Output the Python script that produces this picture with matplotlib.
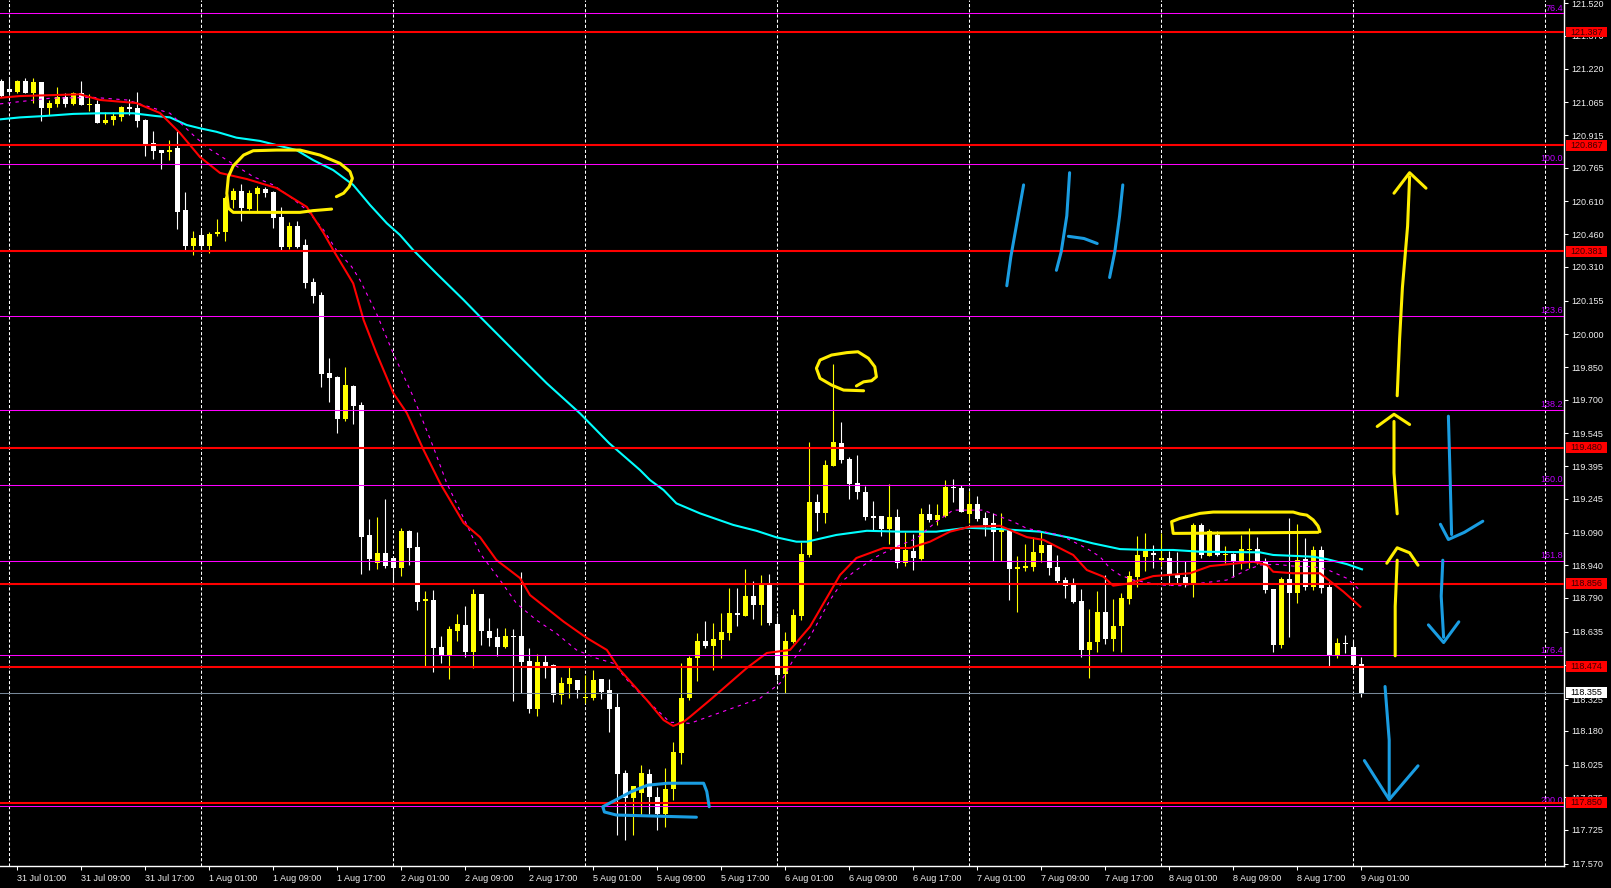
import numpy as np
import matplotlib
matplotlib.use("Agg")
import matplotlib.pyplot as plt
from matplotlib.patches import Rectangle

plt.rcParams['font.family'] = ['Liberation Sans', 'DejaVu Sans']

# H1 bars, bar 0 = 31 Jul 00:00 (first visible bar is 30 Jul 23:00)
first_bar = -1

opens = [121.165, 121.126, 121.113, 121.163, 121.109, 121.157, 121.040, 121.058, 121.091, 121.058,
         121.109, 121.052, 121.058, 120.972, 120.984, 120.999, 121.044, 121.039, 120.984, 120.878,
         120.846, 120.837, 120.857, 120.571, 120.407, 120.457, 120.407, 120.461, 120.471, 120.618,
         120.658, 120.577, 120.646, 120.667, 120.653, 120.540, 120.402, 120.499, 120.411, 120.240,
         120.181, 119.822, 119.805, 119.610, 119.763, 119.675, 119.079, 118.950, 118.996, 118.973,
         118.927, 119.097, 119.024, 118.777, 118.780, 118.564, 118.524, 118.638, 118.665, 118.541,
         118.808, 118.638, 118.610, 118.564, 118.616, 118.615, 118.500, 118.280, 118.496, 118.482,
         118.344, 118.395, 118.413, 118.332, 118.330, 118.417, 118.367, 118.289, 117.986, 117.871,
         117.894, 117.981, 117.876, 117.798, 117.912, 118.078, 118.329, 118.515, 118.592, 118.569,
         118.598, 118.630, 118.720, 118.707, 118.799, 118.757, 118.849, 118.670, 118.442, 118.587,
         118.707, 118.987, 119.230, 119.181, 119.395, 119.501, 119.428, 119.317, 119.276, 119.166,
         119.166, 119.106, 119.161, 118.950, 119.005, 118.968, 119.175, 119.148, 119.166, 119.299,
         119.294, 119.175, 119.221, 119.157, 119.134, 119.092, 119.102, 118.922, 118.927, 118.932,
         118.996, 119.033, 118.932, 118.872, 118.849, 118.776, 118.551, 118.587, 118.725, 118.601,
         118.661, 118.785, 118.886, 118.978, 118.996, 118.964, 118.973, 118.900, 118.886, 118.849,
         119.125, 118.982, 119.079, 118.987, 118.991, 118.959, 119.010, 119.014, 118.959, 118.831,
         118.574, 118.877, 118.812, 118.968, 118.840, 119.010, 118.840, 118.523, 118.583, 118.564,
         118.486]
highs = [121.172, 121.180, 121.168, 121.176, 121.176, 121.160, 121.076, 121.134, 121.107, 121.114,
         121.162, 121.103, 121.076, 121.019, 121.019, 121.048, 121.079, 121.113, 120.987, 120.934,
         120.846, 120.892, 120.934, 120.653, 120.473, 120.479, 120.470, 120.529, 120.635, 120.670,
         120.690, 120.663, 120.681, 120.678, 120.659, 120.586, 120.516, 120.520, 120.438, 120.257,
         120.193, 119.893, 119.809, 119.850, 119.769, 119.688, 119.152, 119.161, 119.244, 118.973,
         119.109, 119.102, 119.094, 118.822, 118.826, 118.615, 118.662, 118.716, 118.753, 118.831,
         118.808, 118.697, 118.652, 118.652, 118.647, 118.909, 118.560, 118.532, 118.528, 118.486,
         118.427, 118.473, 118.413, 118.436, 118.459, 118.417, 118.417, 118.353, 117.999, 117.926,
         118.023, 118.004, 117.922, 118.009, 118.128, 118.491, 118.523, 118.629, 118.684, 118.676,
         118.720, 118.837, 118.837, 118.922, 118.867, 118.895, 118.900, 118.707, 118.633, 118.739,
         119.046, 119.506, 119.267, 119.423, 119.864, 119.597, 119.437, 119.446, 119.304, 119.235,
         119.166, 119.313, 119.198, 119.092, 119.083, 119.203, 119.221, 119.221, 119.331, 119.336,
         119.308, 119.281, 119.258, 119.184, 119.180, 119.180, 119.106, 118.982, 119.037, 119.069,
         119.092, 119.033, 118.987, 118.886, 118.881, 118.831, 118.739, 118.822, 118.895, 118.785,
         118.812, 118.913, 119.074, 119.088, 119.033, 119.088, 119.005, 119.001, 118.959, 119.134,
         119.134, 119.106, 119.097, 119.028, 118.996, 119.079, 119.111, 119.069, 118.973, 118.831,
         118.886, 119.157, 119.129, 119.065, 119.028, 119.028, 118.863, 118.606, 118.619, 118.592,
         118.518]
lows = [121.090, 121.108, 121.107, 121.107, 121.061, 120.979, 121.007, 121.042, 121.045, 121.053,
        121.053, 121.027, 120.972, 120.964, 120.960, 120.979, 121.007, 120.953, 120.819, 120.806,
        120.760, 120.800, 120.485, 120.384, 120.364, 120.378, 120.375, 120.451, 120.430, 120.579,
        120.522, 120.571, 120.568, 120.632, 120.490, 120.384, 120.393, 120.395, 120.214, 120.145,
        119.760, 119.691, 119.548, 119.603, 119.588, 118.901, 118.918, 118.922, 118.927, 118.860,
        118.890, 118.941, 118.734, 118.477, 118.450, 118.492, 118.417, 118.592, 118.520, 118.468,
        118.574, 118.569, 118.523, 118.560, 118.318, 118.355, 118.261, 118.248, 118.422, 118.312,
        118.303, 118.330, 118.330, 118.307, 118.321, 118.326, 118.174, 117.701, 117.678, 117.701,
        117.793, 117.798, 117.724, 117.738, 117.862, 118.027, 118.321, 118.410, 118.561, 118.459,
        118.515, 118.598, 118.662, 118.707, 118.694, 118.665, 118.665, 118.413, 118.355, 118.581,
        118.688, 118.978, 119.097, 119.135, 119.395, 119.409, 119.244, 119.244, 119.148, 119.102,
        119.074, 119.037, 118.927, 118.936, 118.918, 118.964, 119.138, 119.125, 119.161, 119.230,
        119.184, 119.134, 119.143, 119.074, 118.959, 118.959, 118.780, 118.725, 118.913, 118.913,
        118.955, 118.895, 118.858, 118.789, 118.766, 118.519, 118.422, 118.541, 118.578, 118.546,
        118.541, 118.762, 118.840, 118.913, 118.927, 118.936, 118.849, 118.858, 118.840, 118.794,
        118.973, 118.982, 118.982, 118.950, 118.886, 118.922, 118.927, 118.945, 118.812, 118.541,
        118.560, 118.610, 118.766, 118.826, 118.826, 118.812, 118.477, 118.514, 118.537, 118.459,
        118.335]
closes = [121.094, 121.114, 121.163, 121.109, 121.159, 121.040, 121.063, 121.091, 121.058, 121.109,
          121.054, 121.056, 120.972, 120.984, 121.004, 121.044, 121.035, 120.981, 120.865, 120.843,
          120.831, 120.845, 120.563, 120.407, 120.442, 120.407, 120.462, 120.471, 120.626, 120.658,
          120.580, 120.650, 120.673, 120.650, 120.535, 120.402, 120.499, 120.402, 120.237, 120.177,
          119.818, 119.801, 119.611, 119.767, 119.671, 119.071, 118.968, 118.996, 118.936, 118.927,
          119.097, 119.020, 118.771, 118.785, 118.561, 118.524, 118.647, 118.670, 118.541, 118.808,
          118.638, 118.606, 118.564, 118.615, 118.612, 118.496, 118.280, 118.496, 118.477, 118.344,
          118.399, 118.422, 118.367, 118.336, 118.413, 118.358, 118.280, 117.981, 117.871, 117.926,
          117.986, 117.876, 117.798, 117.912, 118.082, 118.330, 118.515, 118.592, 118.569, 118.601,
          118.633, 118.720, 118.711, 118.799, 118.757, 118.849, 118.675, 118.437, 118.592, 118.711,
          118.991, 119.230, 119.181, 119.400, 119.506, 119.423, 119.313, 119.276, 119.161, 119.157,
          119.106, 119.161, 118.950, 119.010, 118.973, 119.175, 119.148, 119.170, 119.299, 119.294,
          119.184, 119.221, 119.152, 119.125, 119.092, 119.102, 118.922, 118.932, 118.936, 119.001,
          119.033, 118.927, 118.867, 118.844, 118.771, 118.551, 118.587, 118.725, 118.601, 118.661,
          118.789, 118.890, 118.987, 119.005, 118.987, 118.973, 118.900, 118.881, 118.849, 119.125,
          118.987, 119.097, 118.987, 118.991, 118.959, 119.014, 119.014, 118.959, 118.826, 118.574,
          118.877, 118.812, 118.964, 118.840, 119.010, 118.835, 118.523, 118.583, 118.578, 118.482,
          118.355]

time_labels = ["31 Jul 01:00", "31 Jul 09:00", "31 Jul 17:00", "1 Aug 01:00", "1 Aug 09:00",
               "1 Aug 17:00", "2 Aug 01:00", "2 Aug 09:00", "2 Aug 17:00", "5 Aug 01:00",
               "5 Aug 09:00", "5 Aug 17:00", "6 Aug 01:00", "6 Aug 09:00", "6 Aug 17:00",
               "7 Aug 01:00", "7 Aug 09:00", "7 Aug 17:00", "8 Aug 01:00", "8 Aug 09:00",
               "8 Aug 17:00", "9 Aug 01:00"]

price_ticks = [121.520, 121.370, 121.220, 121.065, 120.915, 120.765, 120.610, 120.460, 120.310,
               120.155, 120.000, 119.850, 119.700, 119.545, 119.395, 119.245, 119.090, 118.940,
               118.790, 118.635, 118.480, 118.325, 118.180, 118.025, 117.875, 117.725, 117.570]

red_levels = [121.387, 120.867, 120.381, 119.480, 118.856, 118.474, 117.850]
fib_names = ["76.4", "100.0", "123.6", "138.2", "150.0", "161.8", "176.4", "200.0"]
fib_prices = [121.474, 120.782, 120.084, 119.653, 119.308, 118.959, 118.526, 117.834]
last_price = 118.355

# moving averages as (bar, price) vertices
fast_ma_bar = [-1.15, 1.35, 8.85, 11.35, 15.9, 18.85, 21.35, 23.85, 26.35, 29.7, 33.4, 37.2, 39.3,
               40.5, 43.0, 44.3, 45.9, 48.0, 49.7, 51.8, 53.85, 56.8, 58.85, 60.9, 63.85, 65.1,
               69.3, 72.2, 74.7, 76.35, 79.7, 81.8, 83.0, 84.3, 85.1, 87.6, 92.2, 94.7, 97.6,
               100.1, 103.85, 105.9, 109.3, 112.6, 115.1, 117.6, 120.1, 123.85, 127.2, 129.3,
               133.0, 134.7, 136.8, 138.0, 140.1, 143.0, 147.6, 150.1, 155.5, 157.2, 158.0,
               160.5, 163.85, 166.8, 168.9]
fast_ma_val = [121.086, 121.094, 121.102, 121.076, 121.062, 121.016, 120.924, 120.814, 120.741,
               120.713, 120.672, 120.585, 120.465, 120.387, 120.234, 120.066, 119.914, 119.731,
               119.639, 119.469, 119.317, 119.134, 119.069, 118.964, 118.881, 118.803, 118.681,
               118.606, 118.551, 118.459, 118.321, 118.229, 118.202, 118.221, 118.244, 118.321,
               118.468, 118.537, 118.551, 118.658, 118.895, 118.973, 119.019, 119.019, 119.048,
               119.094, 119.117, 119.121, 119.069, 119.056, 118.987, 118.918, 118.887, 118.846,
               118.857, 118.890, 118.903, 118.936, 118.956, 118.941, 118.910, 118.903, 118.903,
               118.818, 118.749]

mid_ma_bar = [-1.15, 5.1, 10.5, 14.7, 17.2, 20.1, 23.0, 24.7, 27.2, 30.5, 33.0, 35.1, 37.2, 39.3,
              40.9, 42.8, 43.85, 45.9, 48.0, 50.5, 53.0, 54.7, 56.8, 58.85, 61.35, 63.4, 65.9,
              68.4, 70.9, 73.4, 75.5, 77.6, 80.1, 82.6, 85.1, 93.85, 96.35, 98.0, 100.1, 102.6,
              104.3, 105.9, 108.4, 110.9, 113.4, 115.9, 118.0, 121.75, 123.85, 125.5, 127.2,
              131.35, 134.7, 136.35, 137.6, 138.85, 140.5, 143.85, 146.35, 148.85, 152.2, 154.7,
              156.35, 158.4, 160.5, 163.0, 164.7, 167.2, 168.9]
mid_ma_val = [121.058, 121.084, 121.088, 121.076, 121.048, 121.015, 120.915, 120.859, 120.800,
              120.724, 120.686, 120.632, 120.571, 120.479, 120.387, 120.311, 120.249, 120.097,
              119.913, 119.714, 119.484, 119.316, 119.157, 118.995, 118.872, 118.765, 118.688,
              118.627, 118.551, 118.513, 118.490, 118.398, 118.306, 118.219, 118.214, 118.329,
              118.398, 118.505, 118.612, 118.780, 118.872, 118.918, 118.979, 119.025, 119.063,
              119.140, 119.193, 119.193, 119.163, 119.140, 119.109, 119.079, 119.017, 118.979,
              118.926, 118.895, 118.872, 118.849, 118.846, 118.857, 118.872, 118.918, 118.941,
              118.944, 118.936, 118.933, 118.921, 118.880, 118.823]

slow_ma_bar = [-1.15, 1.35, 4.25, 8.0, 11.35, 15.5, 18.4, 20.1, 22.2, 23.85, 25.9, 28.4, 31.35,
               33.4, 35.9, 38.0, 40.5, 43.0, 45.1, 47.2, 48.85, 50.5, 53.4, 56.8, 58.85, 63.0,
               67.2, 71.35, 75.0, 78.85, 80.1, 81.8, 83.4, 86.35, 90.5, 93.4, 95.9, 98.4, 99.7,
               103.4, 107.2, 111.35, 115.9, 119.7, 123.85, 128.85, 133.0, 135.5, 138.85, 142.2,
               145.5, 148.85, 156.35, 158.0, 163.0, 164.7, 167.2, 169.1]
slow_ma_val = [120.987, 120.996, 121.002, 121.012, 121.015, 121.015, 121.002, 120.996, 120.961,
               120.946, 120.930, 120.903, 120.888, 120.869, 120.846, 120.800, 120.754, 120.686,
               120.594, 120.510, 120.456, 120.387, 120.280, 120.158, 120.081, 119.928, 119.775,
               119.637, 119.500, 119.377, 119.331, 119.285, 119.224, 119.178, 119.125, 119.098,
               119.068, 119.048, 119.048, 119.079, 119.098, 119.094, 119.094, 119.112, 119.106,
               119.094, 119.063, 119.040, 119.014, 119.010, 119.010, 119.002, 118.999, 118.987,
               118.979, 118.968, 118.945, 118.921]

# hand drawn marks, (bar, price)
yellow_strokes = [
    [(40.3, 120.575), (38.0, 120.568), (36.35, 120.560), (28.0, 120.560), (27.4, 120.579),
     (27.2, 120.648), (27.4, 120.724), (28.0, 120.773), (29.3, 120.823), (30.5, 120.843),
     (33.4, 120.846), (36.35, 120.846), (38.85, 120.823), (41.35, 120.785), (42.6, 120.747),
     (42.9, 120.716), (42.5, 120.678), (41.8, 120.648), (40.9, 120.632)],
    [(106.8, 119.741), (104.3, 119.744), (102.8, 119.767), (101.35, 119.798), (100.9, 119.844),
     (101.35, 119.882), (102.8, 119.905), (104.7, 119.916), (106.1, 119.920), (107.4, 119.890),
     (108.2, 119.851), (108.4, 119.805), (107.8, 119.787), (106.8, 119.782), (105.9, 119.763)],
    [(163.6, 119.091), (145.5, 119.086), (145.3, 119.140), (146.35, 119.155), (148.85, 119.178),
     (150.5, 119.184), (160.5, 119.184), (161.35, 119.175), (162.2, 119.170), (163.0, 119.148),
     (163.6, 119.120), (163.85, 119.094)],
    [(173.5, 119.718), (173.8, 119.978), (174.15, 120.214), (174.8, 120.497), (175.05, 120.723)],
    [(173.1, 120.648), (175.05, 120.742), (177.1, 120.671)],
    [(173.5, 119.176), (173.1, 119.364), (173.1, 119.600)],
    [(171.0, 119.577), (173.1, 119.633), (175.05, 119.586)],
    [(173.25, 118.524), (173.25, 118.751), (173.5, 118.963)],
    [(172.2, 118.949), (173.5, 119.020), (175.05, 118.997), (176.1, 118.940)],
]
blue_strokes = [
    [(85.9, 117.783), (75.9, 117.793), (74.4, 117.807), (74.2, 117.831), (75.9, 117.864),
     (77.8, 117.901), (79.8, 117.930), (82.3, 117.939), (86.8, 117.939), (87.2, 117.901),
     (87.5, 117.831)],
    [(126.8, 120.686), (126.0, 120.520), (125.2, 120.355), (124.7, 120.223)],
    [(132.55, 120.742), (132.2, 120.544), (131.5, 120.379), (130.9, 120.294)],
    [(132.4, 120.450), (134.35, 120.440), (136.0, 120.417)],
    [(139.2, 120.686), (138.8, 120.544), (138.2, 120.379), (137.55, 120.261)],
    [(179.9, 119.624), (180.1, 119.364), (180.3, 119.081)],
    [(178.9, 119.128), (179.9, 119.058), (181.9, 119.091), (184.2, 119.142)],
    [(179.2, 118.963), (179.0, 118.798), (179.3, 118.609)],
    [(177.4, 118.666), (179.3, 118.585), (181.2, 118.680)],
    [(171.98, 118.383), (172.5, 118.137), (172.5, 117.878)],
    [(169.4, 118.043), (172.5, 117.864), (176.1, 118.019)],
]

bull_col = "#ffff00"
bear_col = "#ffffff"
small = 6.5

fig = plt.figure(figsize=(16.11, 8.88), dpi=100, facecolor="black")
ax = fig.add_axes([0, 22 / 888, 1564 / 1611, 866 / 888], facecolor="black")

bars = np.arange(len(opens)) + first_bar
o = np.array(opens)
c = np.array(closes)
cols = [bull_col if cc >= oo else bear_col for oo, cc in zip(o, c)]
body_low = np.minimum(o, c)
body_h = np.maximum(np.abs(c - o), 0.0045)

# day separators
for d in range(0, 193, 24):
    ax.axvline(d, color="white", lw=0.75, ls=(0, (3, 2)), zorder=1)

ax.vlines(bars, lows, highs, colors=cols, lw=0.8, zorder=2)
ax.bar(bars, body_h, bottom=body_low, width=0.64, color=cols, linewidth=0, zorder=3)

ax.plot(slow_ma_bar, slow_ma_val, color="#00ffff", lw=1.5, zorder=4)
ax.plot(mid_ma_bar, mid_ma_val, color="#ff00ff", lw=0.8, ls=(0, (3, 4)), zorder=4)
ax.plot(fast_ma_bar, fast_ma_val, color="#ff0000", lw=1.5, zorder=4)

for p in fib_prices:
    ax.axhline(p, color="#ff00ff", lw=0.75, zorder=5)
for name, p in zip(fib_names, fib_prices):
    ax.text(0.9993, p + 0.003, name, transform=ax.get_yaxis_transform(), ha="right",
            va="bottom", color="#c000ff", fontsize=small, zorder=5)
for p in red_levels:
    ax.axhline(p, color="#ff0000", lw=1.5, zorder=6)
ax.axhline(last_price, color="#778899", lw=0.75, zorder=5)

for stroke in yellow_strokes:
    xs, ys = zip(*stroke)
    ax.plot(xs, ys, color="#ffee00", lw=2.2, solid_capstyle="round",
            solid_joinstyle="round", zorder=7)
for stroke in blue_strokes:
    xs, ys = zip(*stroke)
    ax.plot(xs, ys, color="#1a9de2", lw=2.2, solid_capstyle="round",
            solid_joinstyle="round", zorder=7)

ax.set_xlim(-1.15, 194.35)
ax.set_ylim(117.559, 121.535)

ax.set_xticks(list(range(1, 170, 8)))
ax.set_xticklabels(time_labels)
for lbl in ax.get_xticklabels():
    lbl.set_horizontalalignment("left")
ax.set_yticks(price_ticks)
ax.set_yticklabels([f"{v:.3f}" for v in price_ticks])
ax.yaxis.tick_right()
ax.tick_params(axis="both", colors="white", labelcolor="#f0f0f0", labelsize=small,
               length=3, width=0.75, pad=2.5)
for side in ["top", "left"]:
    ax.spines[side].set_visible(False)
for side in ["right", "bottom"]:
    ax.spines[side].set_color("white")
    ax.spines[side].set_linewidth(1)

# price tags on the right scale
tag_h = 10.5 / 217.8
tr = ax.get_yaxis_transform()
for p in red_levels:
    ax.add_patch(Rectangle((1.001, p - tag_h / 2), 0.0266, tag_h, transform=tr,
                           facecolor="#ff0000", edgecolor="none", clip_on=False, zorder=8))
    ax.text(1.0043, p, f"{p:.3f}", transform=tr, ha="left", va="center",
            color="#3a0000", fontsize=small, zorder=9, clip_on=False)
ax.add_patch(Rectangle((1.001, last_price - tag_h / 2), 0.0266, tag_h, transform=tr,
                       facecolor="white", edgecolor="none", clip_on=False, zorder=8))
ax.text(1.0043, last_price, f"{last_price:.3f}", transform=tr, ha="left", va="center",
        color="black", fontsize=small, zorder=9, clip_on=False)

fig.savefig("out.png", dpi=100, facecolor="black")
